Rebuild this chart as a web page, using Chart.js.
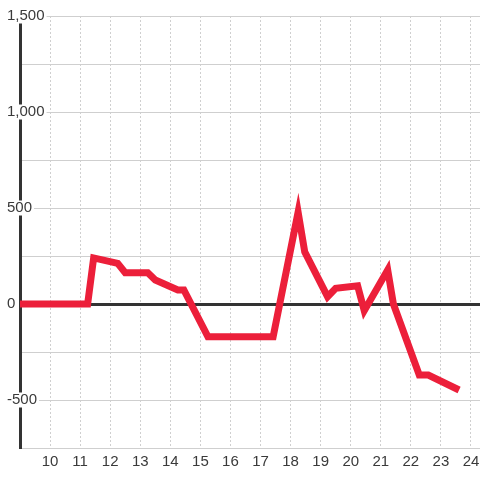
<!DOCTYPE html>
<html>
<head>
<meta charset="utf-8">
<script src="https://cdn.jsdelivr.net/npm/chart.js@4/dist/chart.umd.min.js"></script>
<style>
  html, body { margin: 0; padding: 0; background: #fff; }
  #wrap { width: 480px; height: 480px; }
</style>
</head>
<body>
<div id="wrap"><canvas id="line" width="480" height="480"></canvas></div>
<script>
// hour of day
const hours = [9, 11.25, 11.45, 12.25, 12.5, 13.25, 13.5, 14.25, 14.45, 15.25, 17.42,
  18.25, 18.47, 19.23, 19.5, 20.23, 20.45, 21.23, 21.42, 22.28, 22.58, 23.5];
const values = [0, 0, 240, 212, 163, 163, 125, 73, 73, -170, -170,
  478, 272, 38, 82, 95, -35, 177, 0, -370, -370, -440];
const xTickLabels = [10, 11, 12, 13, 14, 15, 16, 17, 18, 19, 20, 21, 22, 23, 24];
const yTickLabels = [-500, 0, 500, 1000, 1500];

const points = hours.map((h, i) => ({ x: h, y: values[i] }));
const tickFont = { family: "'Liberation Sans', Arial, sans-serif", size: 15, lineHeight: 1 };

let config = {
  type: 'line',
  data: {
    datasets: [
      {
        data: points,
        borderColor: '#ec1f3a',
        borderWidth: 7,
        borderCapStyle: 'square',
        pointRadius: 0,
        tension: 0,
        fill: false
      }
    ]
  },
  options: {
    responsive: false,
    animation: false,
    layout: { padding: { left: 20, top: 16, right: 0, bottom: 0 } },
    plugins: { legend: { display: false }, tooltip: { enabled: false } },
    scales: {
      x: {
        type: 'linear',
        min: 9,
        max: 24.3,
        afterFit: (scale) => { scale.height = 32; },
        ticks: {
          stepSize: 1,
          includeBounds: false,
          autoSkip: false,
          maxRotation: 0,
          padding: 0,
          color: '#3a3a3a',
          font: tickFont,
          callback: (v) => xTickLabels.includes(v) ? String(v) : ''
        },
        grid: { color: '#cfcfcf', lineWidth: 1, drawTicks: true, tickLength: 6, tickColor: 'rgba(0,0,0,0)' },
        // in v4 border.dash also dashes the grid lines
        border: { display: true, color: '#cfcfcf', width: 1, dash: [2, 2] }
      },
      y: {
        min: -750,
        max: 1500,
        afterFit: (scale) => { scale.width = 0; },
        ticks: {
          stepSize: 250,
          mirror: true,
          padding: -13,
          color: '#3a3a3a',
          font: tickFont,
          showLabelBackdrop: (ctx) => yTickLabels.includes(ctx.tick.value),
          backdropColor: '#fff',
          backdropPadding: { top: 0, bottom: 0, left: 1, right: 2 },
          callback: (v) => yTickLabels.includes(v) ? v.toLocaleString('en-US') : ''
        },
        grid: {
          drawTicks: false,
          color: (ctx) => ctx.tick && ctx.tick.value === 0 ? '#333' : '#cfcfcf',
          lineWidth: (ctx) => ctx.tick && ctx.tick.value === 0 ? 3 : 1
        },
        border: { display: true, color: '#333', width: 3 }
      }
    }
  }
};

let ctx = document.getElementById('line').getContext('2d');
window.myLine = new Chart(ctx, config);
</script>
</body>
</html>
